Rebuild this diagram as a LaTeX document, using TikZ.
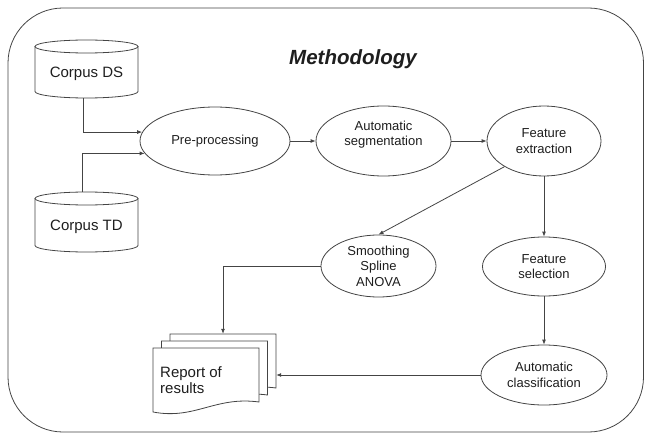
\documentclass[tikz,border=0pt]{standalone}
\usepackage{fontspec}
\setmainfont{Liberation Sans}
\usetikzlibrary{arrows.meta,shapes.geometric,calc}
\definecolor{linec}{HTML}{444444}
\definecolor{textc}{HTML}{1E1E1E}
\begin{document}
\begin{tikzpicture}[x=1pt,y=-1pt,
  line/.style={draw=linec, line width=0.8pt},
  arr/.style={line, -{Latex[length=5pt,width=4pt]}},
  proc/.style={ellipse, line, fill=white, inner sep=0pt, align=center,
    font=\fontsize{13}{15.4}\selectfont, text=textc},
  dbtext/.style={inner sep=0pt, minimum width=103pt, text=textc,
    font=\fontsize{15}{17}\selectfont},
  docbox/.style={line, fill=white}
]
\useasboundingbox (0,0) rectangle (645,433);
% outer frame
\draw[line, rounded corners=55pt] (8,8) rectangle (643.5,432);
% title
\node[text=textc, font=\fontsize{20.5}{24}\selectfont\bfseries\itshape] (title) at (353,59) {Methodology};

% cylinders
\draw[line] (35,46.5) -- (35,91.5) arc[start angle=180, end angle=0, x radius=51.5, y radius=6.5] -- (138,46.5);
\draw[line] (86.5,46.5) ellipse[x radius=51.5, y radius=6.5];
\node[dbtext, minimum height=49pt] (ds) at (86.5,73.5) {Corpus DS};

\draw[line] (35,198.5) -- (35,245.5) arc[start angle=180, end angle=0, x radius=51.5, y radius=6.5] -- (138,198.5);
\draw[line] (86.5,198.5) ellipse[x radius=51.5, y radius=6.5];
\node[dbtext, minimum height=70pt] (td) at (86.5,227) {Corpus TD};

% process ellipses
\node[proc, minimum width=150pt, minimum height=68pt] (pre) at (215,141) {Pre-processing};
\node[proc, minimum width=135pt, minimum height=70pt] (seg) at (383.5,141) {Automatic\\segmentation\\\mbox{}};
\node[proc, minimum width=114pt, minimum height=70pt] (fe) at (544,141) {Feature\\extraction};
\node[proc, minimum width=115pt, minimum height=62pt] (ssa) at (378.5,266) {Smoothing\\Spline\\ANOVA};
\node[proc, minimum width=123pt, minimum height=59pt] (fs) at (544,266.5) {Feature\\selection};
\node[proc, minimum width=126pt, minimum height=60pt] (auc) at (544,375) {Automatic\\classification};

% stacked documents
\foreach \s in {2,1,0}{
  \begin{scope}[shift={(8.5*\s,-7*\s)}]
    \draw[docbox] (153,412) -- (153,348) -- (259,348) -- (259,402)
      .. controls (215,396) and (195,420) .. (153,412) -- cycle;
  \end{scope}
}
\node[inner sep=0pt, minimum width=106pt, minimum height=54pt] (repback) at (223,361) {};
\node[anchor=west, align=left, inner sep=0pt, text=textc,
  font=\fontsize{15}{16.5}\selectfont] (rep) at (160,380) {Report of\\results};

% connectors
\draw[arr] ([xshift=-3.5pt]ds.south) |- (pre.173);
\draw[arr] ([xshift=-4.5pt]td.north) |- (pre.190);
\draw[arr] (pre) -- (seg);
\draw[arr] (seg) -- (fe);
\draw[arr] (fe.213) -- (ssa.north);
\draw[arr] (fe) -- (fs);
\draw[arr] (fs) -- (auc);
\draw[arr] (ssa.west) -| (repback.north);
\draw[arr] (auc.west) -- (auc.west -| repback.east);
\end{tikzpicture}
\end{document}
